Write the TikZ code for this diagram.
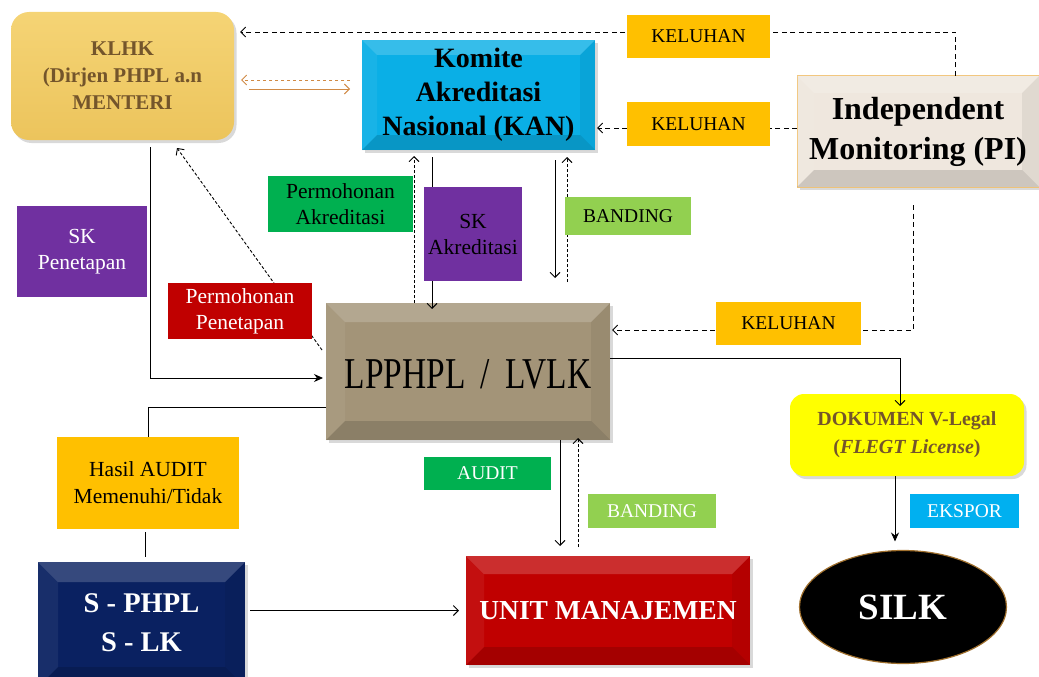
\documentclass[tikz,border=0pt]{standalone}
\usepackage{fontspec}
\setmainfont{Liberation Serif}
\usetikzlibrary{arrows.meta,shadows,shapes.geometric}
\definecolor{klhkT}{HTML}{F5D475}
\definecolor{klhkB}{HTML}{ECC45C}
\definecolor{brownT}{HTML}{74552B}
\definecolor{kanC}{HTML}{0AAFE6}
\definecolor{piC}{HTML}{EFE7DE}
\definecolor{piB}{HTML}{F2C67C}
\definecolor{lpC}{HTML}{A39478}
\definecolor{unitC}{HTML}{C00000}
\definecolor{navyC}{HTML}{0A2161}
\definecolor{silkB}{HTML}{A0702E}
\definecolor{dokC}{HTML}{FFFF00}
\definecolor{kelC}{HTML}{FFC000}
\definecolor{grnC}{HTML}{00B050}
\definecolor{purC}{HTML}{7030A0}
\definecolor{lgrC}{HTML}{92D050}
\definecolor{redC}{HTML}{C00000}
\definecolor{cyaC}{HTML}{00B0F0}
\definecolor{oraC}{HTML}{D08A45}
\newcommand{\setfs}[2]{\fontsize{#1}{#2}\selectfont}
\newcommand{\mybevel}[2]{%
 \fill[white,opacity=0.18] (#1.north west) -- (#1.north east) -- ([shift={(-#2,#2)}]#1.north east) -- ([shift={(#2,#2)}]#1.north west) -- cycle;
 \fill[white,opacity=0.06] (#1.north west) -- ([shift={(#2,#2)}]#1.north west) -- ([shift={(#2,-#2)}]#1.south west) -- (#1.south west) -- cycle;
 \fill[black,opacity=0.06] (#1.north east) -- ([shift={(-#2,#2)}]#1.north east) -- ([shift={(-#2,-#2)}]#1.south east) -- (#1.south east) -- cycle;
 \fill[black,opacity=0.14] (#1.south west) -- ([shift={(#2,-#2)}]#1.south west) -- ([shift={(-#2,-#2)}]#1.south east) -- (#1.south east) -- cycle;
}
\tikzset{
 box/.style={inner sep=0pt, outer sep=0pt, draw=none},
 shad/.style={drop shadow={opacity=0.3, shadow xshift=2.5pt, shadow yshift=-3pt}},
 txt/.style={inner sep=0pt, align=center},
 lbl/.style={inner sep=0pt, outer sep=0pt, align=center, font=\setfs{19.5}{26}},
 lbltwo/.style={lbl, font=\setfs{21.5}{26}},
 arr/.style={-{Straight Barb[length=5pt,width=10pt]}, line width=0.9pt},
 ln/.style={line width=0.9pt},
 dsh/.style={dash pattern=on 5pt off 3.5pt},
 fdsh/.style={dash pattern=on 3pt off 2pt},
}
\begin{document}
\begin{tikzpicture}[x=1pt,y=-1pt]
\path[use as bounding box] (0,0) rectangle (1039,677);
\clip (0,0) rectangle (1039,677);

% ---------- main boxes ----------
\node[box, rounded corners=18pt, minimum width=223pt, minimum height=128pt, top color=klhkT, bottom color=klhkB, shad] (klhk) at (122.5,76) {};
\node[box, fill=kanC, minimum width=233pt, minimum height=110pt, shad] (kan) at (478.5,95) {};
\mybevel{kan}{15}
\node[box, fill=piC, draw=piB, line width=1pt, minimum width=242pt, minimum height=111pt, shad] (pi) at (918,131.5) {};
\mybevel{pi}{17}
\node[box, fill=lpC, minimum width=284pt, minimum height=137pt, shad] (lp) at (468,371.5) {};
\mybevel{lp}{19}
\node[box, fill=dokC, rounded corners=14pt, minimum width=234pt, minimum height=82pt, shad] (dok) at (907,435) {};
\node[box, ellipse, fill=black, draw=silkB, line width=1.2pt, minimum width=207pt, minimum height=113pt] (silk) at (903,607) {};
\node[box, fill=navyC, minimum width=207pt, minimum height=125pt, shad] (sphpl) at (141.5,624.5) {};
\mybevel{sphpl}{20}
\node[box, fill=unitC, minimum width=284pt, minimum height=109pt, shad] (unit) at (608,610.5) {};
\mybevel{unit}{18}

% ---------- box texts ----------
\node[txt, text=brownT, font=\bfseries\setfs{21}{27}] (klhkt) at (klhk) {KLHK\\(Dirjen PHPL a.n\\MENTERI};
\node[txt, font=\bfseries\setfs{28}{34}] (kant) at (kan) {Komite\\Akreditasi\\Nasional (KAN)};
\node[txt, font=\bfseries\setfs{32}{40}] (pit) at (pi) {Independent\\Monitoring (PI)};
\node[txt, font=\setfs{44}{50}] (lpt) at ([yshift=-3pt]lp.center) {\scalebox{0.76}[1]{LPPHPL\hspace{0.45em}/\hspace{0.45em}LVLK}};
\node[txt, text=brownT, font=\bfseries\setfs{20}{28}] (dokt) at (dok) {DOKUMEN V-Legal\\(\textit{FLEGT License})};
\node[txt, text=white, font=\bfseries\setfs{37}{40}] (silkt) at (silk) {SILK};
\node[txt, text=white, font=\bfseries\setfs{28.5}{39}] (sphplt) at ([yshift=2pt]sphpl.center) {S - PHPL\\S - LK};
\node[txt, text=white, font=\bfseries\setfs{27.5}{30}] (unitt) at (unit) {UNIT MANAJEMEN};

\path (148,483) coordinate (hasilc);

% ---------- connectors ----------
% PI -> KLHK (top keluhan)
\draw[ln, dsh, arr, shorten >=6pt] ([xshift=37pt]pi.north) |- ([yshift=44pt]klhk.east);
% PI -> KAN (middle keluhan)
\draw[ln, dsh, arr, shorten >=2pt] ([yshift=3.5pt]pi.west) -- ([yshift=3.5pt]pi.west -| kan.east);
% KAN <-> KLHK orange
\draw[oraC, line width=1pt, dashed, arr, shorten <=12pt, shorten >=7pt] ([yshift=15pt]kan.west) -- ([yshift=15pt]kan.west -| klhk.east);
\draw[oraC, line width=1pt, arr, shorten <=15pt, shorten >=12pt] ([yshift=6pt]kan.west -| klhk.east) -- ([yshift=6pt]kan.west);
% KLHK -> LP (SK Penetapan)
\draw[ln, -{Stealth[length=9pt,width=8pt]}, shorten <=7pt, shorten >=3pt] ([xshift=27.5pt]klhk.south) |- ([yshift=-6.5pt]lp.west);
% LP -> KLHK (Permohonan Penetapan)
\draw[ln, fdsh, arr] ([xshift=-4pt,yshift=21.5pt]lp.west) -- ([xshift=54.5pt,yshift=-8pt]klhk.south);
% LP -> KAN (Permohonan Akreditasi)
\draw[ln, fdsh, arr, shorten >=6pt] ([xshift=-54pt]lp.north) -- ([xshift=-54pt]lp.north |- kan.south);
% KAN -> LP (SK Akreditasi)
\draw[ln, arr, shorten <=7pt, shorten >=-6pt] ([xshift=-46.5pt]kan.south) -- ([xshift=-46.5pt]kan.south |- lp.north);
% KAN <-> banding
\coordinate (bandA) at (555,278);
\coordinate (bandB) at (567,282);
\draw[ln, arr, shorten <=10pt] ([xshift=76.5pt]kan.south) -- (bandA);
\draw[ln, fdsh, arr, shorten >=7pt] (bandB) -- ([xshift=88.5pt]kan.south);
% PI -> LP (keluhan)
\draw[ln, dsh, arr, shorten <=18pt, shorten >=2pt] ([xshift=-5pt]pi.south) |- ([yshift=41.5pt]lp.east);
% LP -> DOK
\draw[ln, arr, shorten >=-12pt] ([yshift=13.5pt]lp.east) -| ([xshift=-7pt]dok.north);
% LP <-> UNIT
\draw[ln, arr, shorten >=10pt] ([xshift=92pt]lp.south) -- ([xshift=92pt]lp.south |- unit.north);
\draw[ln, fdsh, arr, shorten <=9pt, shorten >=-2pt] ([xshift=110pt]lp.south |- unit.north) -- ([xshift=110pt]lp.south);
% DOK -> SILK
\draw[ln, -{Stealth[length=9pt,width=8pt]}, shorten >=9pt] ([xshift=-12pt]dok.south) -- ([xshift=-12pt]dok.south |- silk.north);
% S-PHPL -> UNIT
\draw[ln, arr, shorten <=5pt, shorten >=7pt] (sphpl.east |- unit.west) -- (unit.west);

% ---------- labels ----------
\node[lbl, fill=kelC, minimum width=143pt, minimum height=43pt] (kel1) at (698.5,36.5) {KELUHAN};
\node[lbl, fill=kelC, minimum width=143pt, minimum height=44pt] (kel2) at (698.5,124) {KELUHAN};
\node[lbl, fill=kelC, minimum width=145pt, minimum height=43pt] (kel3) at (788.5,323.5) {KELUHAN};
\node[lbltwo, fill=grnC, minimum width=145pt, minimum height=56pt] (pakr) at (340.5,204) {Permohonan\\Akreditasi};
\node[lbltwo, fill=purC, minimum width=98pt, minimum height=94pt] (skakr) at (473,234) {SK\\Akreditasi};
\node[lbl, fill=lgrC, minimum width=126pt, minimum height=38pt] (band1) at (628,216) {BANDING};
\node[lbltwo, fill=purC, text=white, minimum width=130pt, minimum height=91pt] (skpen) at (82,251.5) {SK\\Penetapan};
\node[lbltwo, fill=redC, text=white, minimum width=144pt, minimum height=56pt] (ppen) at (240,311) {Permohonan\\Penetapan};
\node[lbl, fill=grnC, text=white, minimum width=127pt, minimum height=33pt] (audit) at (487.5,473.5) {AUDIT};
\node[lbl, fill=lgrC, text=white, minimum width=128pt, minimum height=34pt] (band2) at (652,511) {BANDING};
\node[lbltwo, fill=kelC, minimum width=182pt, minimum height=92pt, font=\setfs{21.5}{27}] (hasil) at (hasilc) {Hasil AUDIT\\Memenuhi/Tidak};
\node[lbl, fill=cyaC, text=white, minimum width=109pt, minimum height=34pt] (ekspor) at (964.5,511) {EKSPOR};

% LP -- Hasil -- S-PHPL
\draw[ln] ([yshift=-35.5pt]lp.west) -| (hasil.north);
\draw[ln, shorten <=3pt, shorten >=5pt] ([xshift=-3pt]hasil.south) -- ([xshift=3.5pt]sphpl.north);
\end{tikzpicture}
\end{document}
